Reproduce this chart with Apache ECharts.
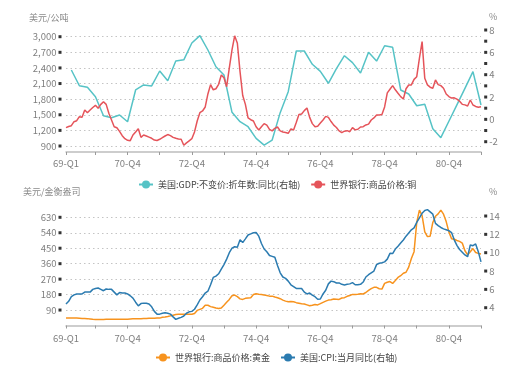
<!DOCTYPE html>
<html><head><meta charset="utf-8">
<script src="https://cdn.jsdelivr.net/npm/echarts@6/dist/echarts.min.js"></script>
<style>html,body{margin:0;padding:0;background:#fff}#c{width:506px;height:389px}</style>
</head><body><div id="c"></div>
<script>
// ---- categories: monthly, Jan 1969 .. Dec 1981 ----
const startYear = 1969, endYear = 1981;
const months = [];
for (let y = startYear; y <= endYear; y++) for (let m = 1; m <= 12; m++) months.push(y + '-' + (m < 10 ? '0' : '') + m);

// ---- top chart ----
const nameGDP = '美国:GDP:不变价:折年数:同比(右轴)';
const nameCopper = '世界银行:商品价格:铜';
// quarterly, 1969Q1 .. 1981Q4 (plotted at quarter-end month)
const gdpYoY = [4.42,3.01,2.87,2.03,0.33,0.15,0.39,-0.21,2.63,3.08,2.99,4.33,
  3.45,5.22,5.33,6.84,7.5,6.21,4.71,3.97,0.63,-0.21,-0.66,-1.70,
  -2.30,-1.85,0.6,2.48,6.12,6.12,4.93,4.30,3.23,4.55,5.70,5.08,
  4.15,6.0,5.22,6.59,6.45,2.63,2.27,1.22,1.35,-0.85,-1.64,-0.17,
  1.30,2.78,4.27,1.29];
// monthly, USD/mt
const copper = [1252,1275,1290,1367,1386,1463,1452,1592,1540,1592,1640,1682,
  1625,1700,1751,1700,1530,1400,1271,1250,1180,1098,1040,1010,
  1002,1111,1170,1230,1067,1111,1092,1070,1048,1015,1005,1029,
  1060,1092,1120,1100,1065,1048,1035,1030,915,960,1000,1040,
  1170,1380,1540,1573,1650,1900,2080,1980,2000,2086,2265,2210,
  2040,2400,2745,3017,2874,2330,1870,1700,1440,1405,1380,1270,
  1208,1271,1330,1300,1220,1190,1240,1265,1190,1170,1160,1144,
  1230,1208,1350,1505,1515,1580,1630,1450,1330,1271,1280,1340,
  1400,1470,1450,1370,1300,1255,1190,1158,1185,1195,1175,1252,
  1210,1221,1265,1271,1304,1320,1400,1440,1496,1496,1505,1650,
  1920,1990,2060,1980,1913,1848,1803,2000,2073,2073,2180,2232,
  2586,2905,2200,2073,2030,2009,2169,2080,2060,2009,1900,1850,
  1820,1825,1800,1760,1700,1690,1669,1784,1688,1660,1644,1655];

// ---- bottom chart ----
const nameGold = '世界银行:商品价格:黄金';
const nameCPI = '美国:CPI:当月同比(右轴)';
const gold = [44,43,43,43,43,42,41,41,40,38,36,35,
  35,35,35,36,36,36,36,36,36,37,37,37,
  38,39,39,39,40,41,41,42,42,42,43,43,
  48,49,52,56,60,64,65,66,66,65,65,65,
  70,88,94,100,118,118,110,106,102,99,102,118,
  135,152,173,177,168,155,152,158,160,162,180,185,
  182,180,177,175,171,171,166,162,156,148,142,138,
  140,138,133,130,127,125,120,115,118,122,120,127,
  135,142,148,150,154,153,152,160,162,170,175,181,
  181,182,185,184,192,204,215,222,222,214,212,245,
  252,256,245,262,280,290,304,310,340,390,430,600,
  672,640,545,518,520,600,636,650,672,648,605,545,
  505,502,495,490,480,435,412,430,448,425,420,416];
const cpi = [4.4,4.7,5.2,5.4,5.5,5.5,5.5,5.7,5.7,5.7,6.0,6.1,
  6.15,6.0,5.85,6.04,6.0,6.0,5.7,5.4,5.65,5.6,5.6,5.5,
  5.3,5.05,4.6,4.2,4.45,4.5,4.48,4.4,4.1,3.6,3.3,3.3,
  3.39,3.45,3.4,3.3,3.0,2.73,2.85,2.95,3.1,3.4,3.55,3.6,
  3.83,4.3,4.84,5.2,5.6,5.8,6.5,7.3,7.45,7.7,8.2,8.7,
  9.3,10.0,10.5,10.65,10.6,11.4,11.1,11.5,11.93,12.05,12.18,12.2,
  11.8,11.0,10.4,10.1,9.7,9.6,9.5,8.6,7.8,7.35,7.2,6.9,
  6.5,6.3,6.1,6.1,6.1,5.7,5.5,5.6,5.38,5.2,4.92,4.95,
  5.5,5.9,6.6,6.9,6.84,6.7,6.7,6.55,6.48,6.55,6.6,6.73,
  6.5,6.5,6.55,6.8,7.35,7.6,7.8,8.0,8.7,8.85,8.9,9.0,
  9.3,9.93,9.9,10.4,10.7,11.05,11.38,11.8,12.15,12.5,12.7,13.3,
  13.8,14.3,14.6,14.7,14.45,14.2,13.2,12.95,12.75,12.6,12.5,12.4,
  12.2,11.4,10.8,10.35,10.05,9.75,9.56,10.84,10.76,10.95,10.1,9.0];

const C_GDP = '#56C3C6', C_CU = '#E5545A', C_AU = '#F7931E', C_CPI = '#2B7BB0';
const FONT = '"Noto Sans CJK SC", "Noto Sans", sans-serif';
const LABEL_C = '#7f7f7f';

const isMult = (v, s) => Math.abs(v / s - Math.round(v / s)) < 1e-6;
const richY = {
  t: {fontSize: 9.5, color: LABEL_C, fontFamily: FONT, verticalAlign: 'middle'},
  g: {width: 2, height: 3, verticalAlign: 'middle'},
  s: {width: 3, height: 3, backgroundColor: '#333', verticalAlign: 'middle'}
};
const leftFmt = (step, skipZero) => v => {
  if (!isMult(v, step) || (skipZero && v === 0)) return '';
  return '{t|' + Math.round(v).toLocaleString('en-US') + '}{g|}{s|}';
};
const rightFmt = (labelStep) => v => {
  if (!isMult(v, 1)) return '';
  const r = Math.round(v);
  if (r % labelStep !== 0) return '{s|}';
  return '{s|}{g|}{t|' + r + '}';
};
const gridLine = {show: true, showMinLine: false, showMaxLine: false,
  lineStyle: {type: [1.5, 3], color: '#c4c4c4', width: 1}};

const quarterLabel = v => v.slice(2, 4) + '-Q' + Math.ceil(Number(v.slice(5, 7)) / 3);
const xAxisCommon = (gi, margin) => ({
  type: 'category', gridIndex: gi, data: months, boundaryGap: false,
  axisLine: {onZero: false, lineStyle: {color: '#bdbdbd', width: 1.5}},
  axisTick: {interval: i => i === 0 || i % 12 === 11, length: 3, lineStyle: {color: '#9a9a9a'}},
  axisLabel: {interval: i => i === 0 || i % 24 === 23, formatter: quarterLabel,
    color: LABEL_C, fontSize: 9.5, fontFamily: FONT, margin: margin},
  splitLine: {show: false}
});
const lineSeries = (name, xi, yi, data, color) => ({
  name, type: 'line', xAxisIndex: xi, yAxisIndex: yi, data,
  symbol: 'circle', showSymbol: false, connectNulls: true,
  lineStyle: {width: 1.5, color}, itemStyle: {color}
});
const legendCommon = {
  itemWidth: 14, itemHeight: 10, itemGap: 10,
  textStyle: {fontSize: 9, color: '#444', fontFamily: FONT}
};
const axisName = (text, x, y, align) => ({
  type: 'text', x, y, silent: true,
  style: {text, fill: '#8a8a8a', fontSize: 9, fontFamily: FONT, verticalAlign: 'middle', align: align || 'left'}
});

const chart = echarts.init(document.getElementById('c'));
chart.setOption({
  animation: false,
  backgroundColor: '#fff',
  grid: [
    {left: 66, right: 25, top: 27, bottom: 237},
    {left: 66, right: 25, top: 205, bottom: 63.5}
  ],
  xAxis: [xAxisCommon(0, 7), xAxisCommon(1, 8)],
  yAxis: [
    {type: 'value', gridIndex: 0, position: 'left', min: 784.7, max: 3186.4, splitNumber: 8,
      axisLine: {show: false}, axisTick: {show: false},
      axisLabel: {showMinLabel: false, showMaxLabel: false, margin: 4.5, formatter: leftFmt(300, false), rich: richY},
      splitLine: gridLine},
    {type: 'value', gridIndex: 0, position: 'right', min: -2.922, max: 8.269, splitNumber: 11,
      axisLine: {show: false}, axisTick: {show: false},
      axisLabel: {showMinLabel: false, showMaxLabel: false, margin: 3.2, formatter: rightFmt(2), rich: richY},
      splitLine: {show: false}},
    {type: 'value', gridIndex: 1, position: 'left', min: 0, max: 701.6, interval: 90,
      axisLine: {show: false}, axisTick: {show: false},
      axisLabel: {showMinLabel: false, showMaxLabel: false, margin: 4.5, formatter: leftFmt(90, true), rich: richY},
      splitLine: gridLine},
    {type: 'value', gridIndex: 1, position: 'right', min: 2.06, max: 15.2, splitNumber: 6,
      axisLine: {show: false}, axisTick: {show: false},
      axisLabel: {showMinLabel: false, showMaxLabel: false, margin: 3.2, formatter: rightFmt(2), rich: richY},
      splitLine: {show: false}}
  ],
  legend: [
    Object.assign({data: [nameGDP, nameCopper], left: 133, top: 175}, legendCommon),
    Object.assign({data: [nameGold, nameCPI], left: 150, top: 348}, legendCommon)
  ],
  graphic: [
    axisName('美元/公吨', 29, 18),
    axisName('%', 489, 17),
    axisName('美元/金衡盎司', 23, 192),
    axisName('%', 489, 192)
  ],
  series: [
    lineSeries(nameGDP, 0, 1, gdpYoY.map((v, k) => [3 * k + 2, v]), C_GDP),
    lineSeries(nameCopper, 0, 0, copper, C_CU),
    lineSeries(nameGold, 1, 2, gold, C_AU),
    lineSeries(nameCPI, 1, 3, cpi, C_CPI)
  ]
});
</script>
</body></html>
